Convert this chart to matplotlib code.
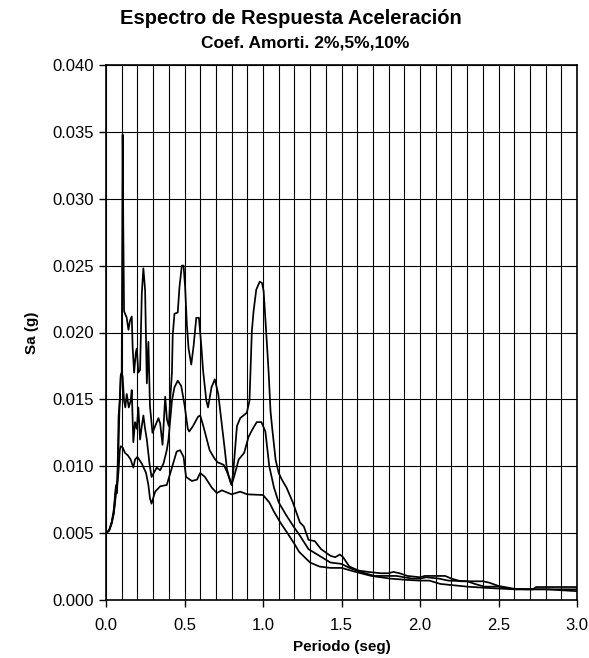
import numpy as np
import matplotlib.pyplot as plt
from matplotlib.ticker import MultipleLocator, FormatStrFormatter

# periodo (seg) y Sa (g), amortiguamiento 2%
periodo_2 = [0.000, 0.020, 0.036, 0.050, 0.057, 0.064, 0.070, 0.075, 0.080, 0.088,
             0.094, 0.100, 0.106, 0.110, 0.115, 0.125, 0.132, 0.143, 0.153, 0.164,
             0.170, 0.179, 0.190, 0.196, 0.206, 0.217, 0.228, 0.238, 0.249, 0.260,
             0.270, 0.280, 0.296, 0.313, 0.334, 0.345, 0.360, 0.377, 0.388, 0.400,
             0.410, 0.420, 0.425, 0.436, 0.457, 0.468, 0.483, 0.494, 0.504, 0.515,
             0.526, 0.543, 0.558, 0.575, 0.592, 0.607, 0.618, 0.639, 0.650, 0.672,
             0.693, 0.715, 0.736, 0.757, 0.770, 0.790, 0.800, 0.810, 0.834, 0.855,
             0.897, 0.914, 0.929, 0.940, 0.957, 0.979, 0.994, 1.004, 1.020, 1.036,
             1.048, 1.059, 1.080, 1.100, 1.120, 1.150, 1.190, 1.235, 1.260, 1.290,
             1.330, 1.370, 1.430, 1.460, 1.490, 1.510, 1.550, 1.610, 1.670, 1.750,
             1.800, 1.830, 1.870, 1.920, 2.000, 2.030, 2.160, 2.200, 2.260, 2.400,
             2.440, 2.500, 2.600, 2.680, 2.720, 2.740, 3.000]
sa_2 = [0.0050, 0.0052, 0.0058, 0.0065, 0.0078, 0.0086, 0.0080, 0.0105, 0.0137, 0.0150,
        0.0167, 0.0170, 0.0348, 0.0280, 0.0216, 0.0213, 0.0211, 0.0202, 0.0209, 0.0212,
        0.0188, 0.0170, 0.0185, 0.0188, 0.0170, 0.0172, 0.0229, 0.0248, 0.0232, 0.0162,
        0.0193, 0.0145, 0.0125, 0.0130, 0.0136, 0.0132, 0.0116, 0.0152, 0.0135, 0.0130,
        0.0152, 0.0170, 0.0198, 0.0214, 0.0215, 0.0234, 0.0250, 0.0250, 0.0234, 0.0206,
        0.0188, 0.0176, 0.0190, 0.0211, 0.0211, 0.0190, 0.0172, 0.0149, 0.0144, 0.0159,
        0.0165, 0.0154, 0.0133, 0.0112, 0.0098, 0.0089, 0.0086, 0.0095, 0.0130, 0.0136,
        0.0140, 0.0149, 0.0201, 0.0216, 0.0232, 0.0238, 0.0237, 0.0231, 0.0201, 0.0170,
        0.0141, 0.0128, 0.0105, 0.0095, 0.0090, 0.0084, 0.0073, 0.0058, 0.0055, 0.0045,
        0.0044, 0.0038, 0.0033, 0.0032, 0.0034, 0.0032, 0.0025, 0.0022, 0.0021, 0.0020,
        0.0020, 0.0021, 0.0020, 0.0018, 0.0017, 0.0018, 0.0018, 0.0016, 0.0014, 0.0014,
        0.0013, 0.00105, 0.00084, 0.0008, 0.0008, 0.00097, 0.00097]

# amortiguamiento 5%
periodo_5 = [0.000, 0.020, 0.036, 0.050, 0.057, 0.064, 0.070, 0.079, 0.085, 0.094,
             0.100, 0.106, 0.115, 0.123, 0.132, 0.145, 0.157, 0.164, 0.174, 0.185,
             0.196, 0.206, 0.217, 0.228, 0.238, 0.249, 0.260, 0.277, 0.290, 0.300,
             0.323, 0.345, 0.366, 0.387, 0.398, 0.420, 0.436, 0.457, 0.479, 0.500,
             0.521, 0.530, 0.554, 0.586, 0.600, 0.620, 0.640, 0.660, 0.690, 0.710,
             0.750, 0.770, 0.790, 0.800, 0.820, 0.845, 0.880, 0.908, 0.930, 0.960,
             0.990, 1.015, 1.040, 1.070, 1.100, 1.150, 1.200, 1.230, 1.290, 1.360,
             1.430, 1.500, 1.550, 1.620, 1.710, 1.800, 1.850, 1.950, 2.000, 2.040,
             2.120, 2.180, 2.300, 2.350, 2.410, 2.500, 2.600, 3.000]
sa_5 = [0.0050, 0.0052, 0.0058, 0.0068, 0.0075, 0.0084, 0.0080, 0.0110, 0.0140, 0.0168,
        0.0170, 0.0167, 0.0149, 0.0144, 0.0154, 0.0144, 0.0149, 0.0157, 0.0118, 0.0133,
        0.0128, 0.0144, 0.0120, 0.0130, 0.0138, 0.0128, 0.0120, 0.0102, 0.0092, 0.0094,
        0.0099, 0.0097, 0.0102, 0.0112, 0.0120, 0.0149, 0.0159, 0.0164, 0.0160, 0.0146,
        0.0128, 0.0126, 0.0130, 0.0137, 0.0138, 0.0130, 0.0121, 0.0112, 0.0106, 0.0103,
        0.0101, 0.0096, 0.0090, 0.0086, 0.0094, 0.0105, 0.0110, 0.0122, 0.0127, 0.0133,
        0.0133, 0.0126, 0.0100, 0.0084, 0.0073, 0.0063, 0.0054, 0.0049, 0.0038, 0.0033,
        0.0028, 0.0027, 0.0024, 0.0021, 0.0018, 0.0018, 0.0018, 0.0016, 0.0016, 0.0017,
        0.0016, 0.00145, 0.0014, 0.0012, 0.0010, 0.0010, 0.0008, 0.0008]

# amortiguamiento 10%
periodo_10 = [0.000, 0.020, 0.036, 0.050, 0.057, 0.064, 0.070, 0.079, 0.088, 0.094,
              0.106, 0.121, 0.140, 0.157, 0.174, 0.185, 0.200, 0.228, 0.255, 0.270,
              0.280, 0.290, 0.313, 0.345, 0.387, 0.420, 0.450, 0.472, 0.494, 0.510,
              0.547, 0.580, 0.600, 0.630, 0.674, 0.706, 0.738, 0.800, 0.855, 0.900,
              1.000, 1.040, 1.070, 1.110, 1.150, 1.200, 1.230, 1.300, 1.360, 1.430,
              1.500, 1.590, 1.690, 1.810, 1.920, 2.000, 2.060, 2.130, 2.300, 2.430,
              2.600, 2.800, 3.000]
sa_10 = [0.0050, 0.0052, 0.0057, 0.0065, 0.0072, 0.0080, 0.0085, 0.0095, 0.0112, 0.0115,
         0.0114, 0.0110, 0.0108, 0.0105, 0.0099, 0.0105, 0.0107, 0.0102, 0.0095, 0.0086,
         0.0076, 0.0072, 0.0081, 0.0085, 0.0086, 0.0099, 0.0111, 0.0112, 0.0107, 0.0092,
         0.0089, 0.0090, 0.0095, 0.0092, 0.0084, 0.0080, 0.0082, 0.0079, 0.0081, 0.0079,
         0.00785, 0.0073, 0.0066, 0.0058, 0.0051, 0.0042, 0.0036, 0.0028, 0.0025, 0.0024,
         0.0024, 0.0021, 0.0018, 0.0016, 0.0015, 0.00145, 0.00145, 0.0012, 0.0010, 0.0009,
         0.0008, 0.0008, 0.00066]

plt.rcParams['font.family'] = ['Liberation Sans', 'DejaVu Sans']

fig = plt.figure(figsize=(5.89, 6.58), dpi=100)
ax = fig.add_axes([106/589, 1 - 600/658, 471/589, 535/658])

for per, sa in ((periodo_2, sa_2), (periodo_5, sa_5), (periodo_10, sa_10)):
    ax.plot(per, sa, color='k', linewidth=1.25)

ax.set_xlim(0, 3.0)
ax.set_ylim(0, 0.040)
ax.xaxis.set_major_locator(MultipleLocator(0.5))
ax.xaxis.set_minor_locator(MultipleLocator(0.1))
ax.yaxis.set_major_locator(MultipleLocator(0.005))
ax.xaxis.set_major_formatter(FormatStrFormatter('%.1f'))
ax.yaxis.set_major_formatter(FormatStrFormatter('%.3f'))
ax.grid(True, which='both', axis='x', color='k', linewidth=0.8)
ax.grid(True, which='major', axis='y', color='k', linewidth=0.8)
ax.set_axisbelow(True)
ax.tick_params(which='major', direction='out', length=5, width=1, labelsize=12)
ax.tick_params(axis='x', which='major', pad=8)
ax.tick_params(which='minor', length=0)
for s in ax.spines.values():
    s.set_linewidth(1.2)

ax.set_xlabel('Periodo (seg)', fontsize=11, fontweight='bold', labelpad=5)
ax.set_ylabel('Sa (g)', fontsize=11, fontweight='bold', labelpad=10)
fig.text(291/589, 1 - 19/658, 'Espectro de Respuesta Aceleración', ha='center', va='center',
         fontsize=14.5, fontweight='bold')
fig.text(305/589, 1 - 43/658, 'Coef. Amorti. 2%,5%,10%', ha='center', va='center',
         fontsize=12.5, fontweight='bold')

fig.savefig('out.png', dpi=100)
